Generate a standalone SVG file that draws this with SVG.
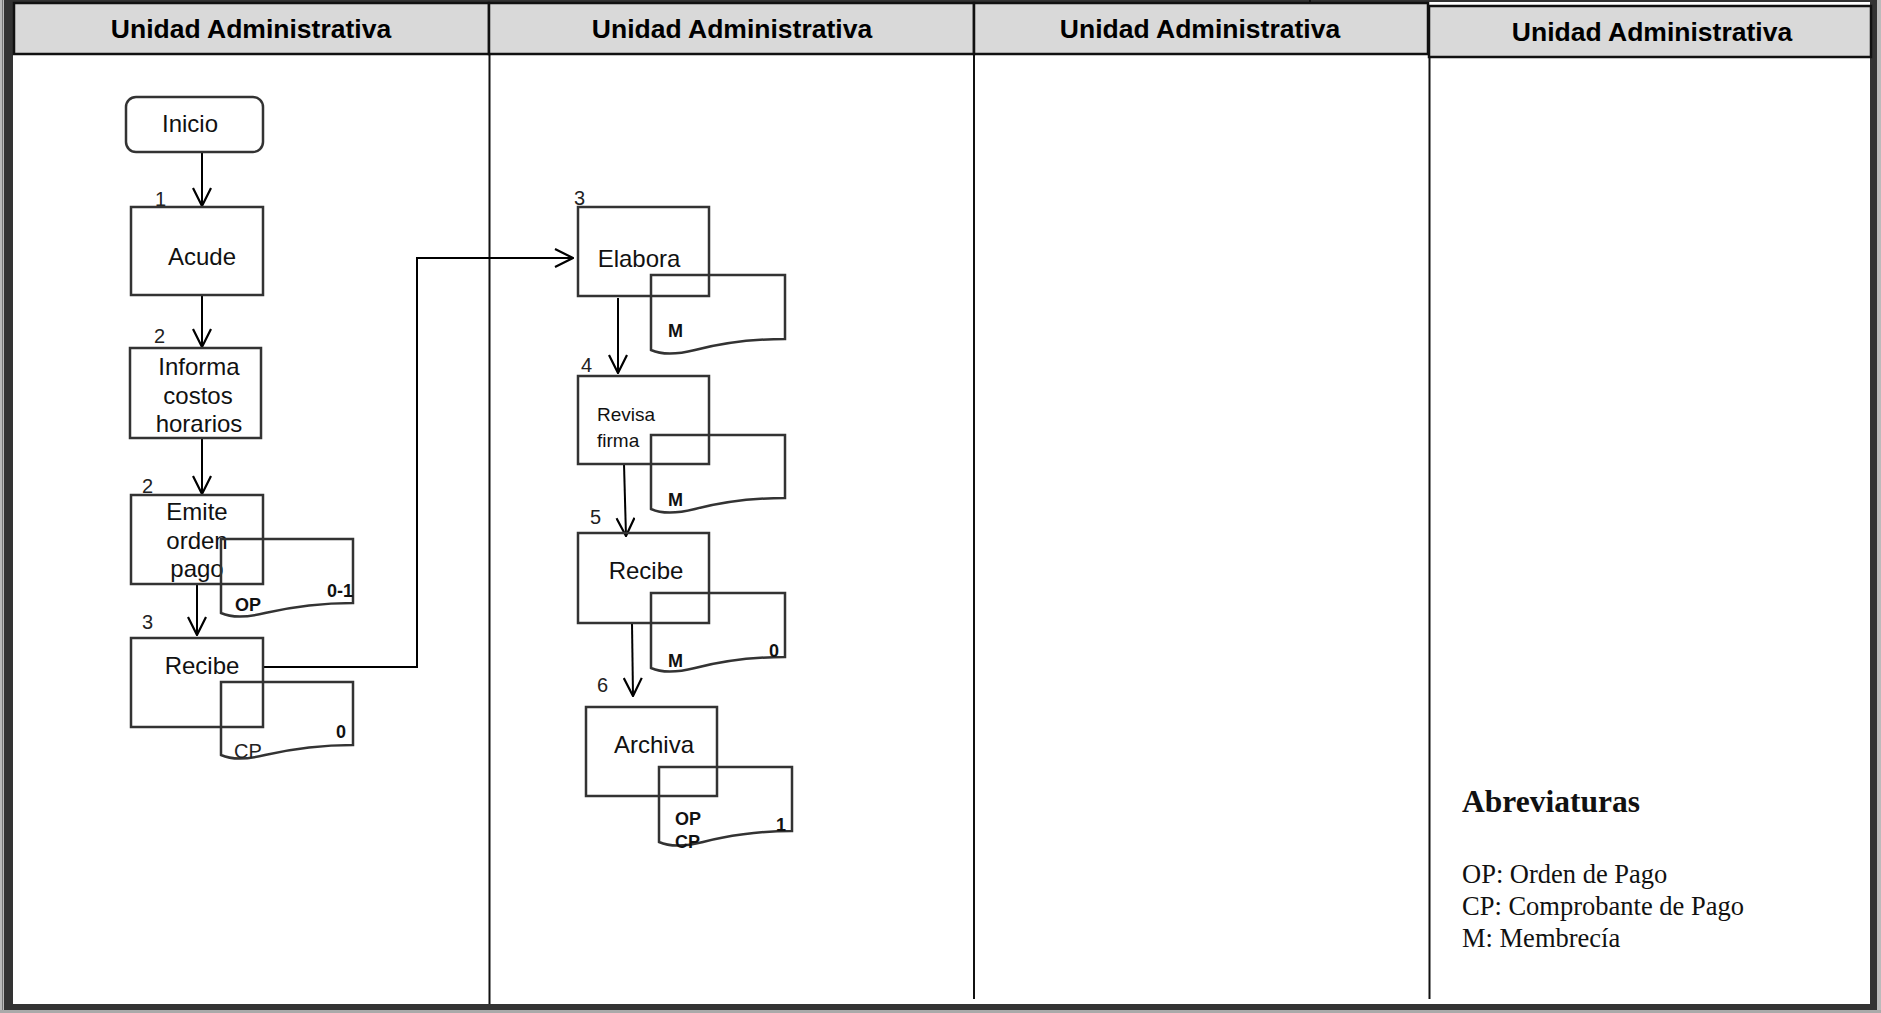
<svg xmlns="http://www.w3.org/2000/svg" width="1881" height="1013" viewBox="0 0 1881 1013">
<style>
.hdr{fill:#d9d9d9;stroke:#111;stroke-width:2.5}
.ht{font-family:"Liberation Sans",Arial,sans-serif;font-weight:bold;font-size:26.5px;fill:#000;text-anchor:middle}
.lane{stroke:#111;stroke-width:2;fill:none}
.box{fill:none;stroke:#333;stroke-width:2.5}
.doc{fill:none;stroke:#333;stroke-width:2.5}
.t{font-family:"Liberation Sans",Arial,sans-serif;font-size:24px;fill:#111;text-anchor:middle}
.ts{font-family:"Liberation Sans",Arial,sans-serif;font-size:19px;fill:#111}
.n{font-family:"Liberation Sans",Arial,sans-serif;font-size:20px;fill:#222}
.dl{font-family:"Liberation Sans",Arial,sans-serif;font-size:18px;font-weight:bold;fill:#111}
.dr{font-family:"Liberation Sans",Arial,sans-serif;font-size:20px;fill:#222}
.cn{fill:none;stroke:#000;stroke-width:2}
.lg{font-family:"Liberation Serif","Times New Roman",serif;font-size:26.5px;fill:#111}
.lgh{font-family:"Liberation Serif","Times New Roman",serif;font-size:31.5px;font-weight:bold;fill:#111}
</style>
<defs>
<marker id="ah" viewBox="0 0 20 20" refX="19" refY="10" markerWidth="20" markerHeight="20" markerUnits="userSpaceOnUse" orient="auto">
<path d="M1,1 L19,10 L1,19" fill="none" stroke="#000" stroke-width="2.2"/>
</marker>
</defs>
<rect x="0" y="0" width="1881" height="1013" fill="#fff"/>
<g id="frame">
<rect x="0" y="0" width="4" height="1013" fill="#bbb"/>
<rect x="2" y="0" width="1" height="1013" fill="#777"/>
<rect x="4" y="0" width="9" height="1013" fill="#333"/>
<rect x="1870" y="0" width="7" height="1013" fill="#333"/>
<rect x="1877" y="0" width="4" height="1013" fill="#bbb"/>
<rect x="4" y="1004" width="1873" height="6" fill="#333"/>
<rect x="0" y="1010" width="1881" height="3" fill="#aaa"/>
<rect x="4" y="0" width="1866" height="2" fill="#333"/>
</g>
<g id="headers">
<rect class="hdr" x="14" y="3" width="475" height="51"/>
<rect class="hdr" x="489" y="3" width="485" height="51"/>
<rect class="hdr" x="974" y="3" width="454" height="51"/>
<rect class="hdr" x="1429" y="6" width="442" height="51"/>
<line x1="1310" y1="0" x2="1310" y2="4" stroke="#111" stroke-width="2"/>
<text class="ht" x="251" y="38">Unidad Administrativa</text>
<text class="ht" x="732" y="38">Unidad Administrativa</text>
<text class="ht" x="1200" y="38">Unidad Administrativa</text>
<text class="ht" x="1652" y="41">Unidad Administrativa</text>
</g>
<g id="lanes">
<line class="lane" x1="489.5" y1="54" x2="489.5" y2="1004"/>
<line class="lane" x1="974" y1="54" x2="974" y2="999"/>
<line class="lane" x1="1429.5" y1="57" x2="1429.5" y2="999"/>
</g>
<g id="connectors">
<line class="cn" x1="202" y1="152" x2="202" y2="206" marker-end="url(#ah)"/>
<line class="cn" x1="202" y1="295" x2="202" y2="347" marker-end="url(#ah)"/>
<line class="cn" x1="202" y1="438" x2="202" y2="494" marker-end="url(#ah)"/>
<line class="cn" x1="197" y1="583" x2="197" y2="635" marker-end="url(#ah)"/>
<polyline class="cn" points="263,667 417,667 417,258 573,258" marker-end="url(#ah)"/>
<line class="cn" x1="618" y1="298" x2="618" y2="373" marker-end="url(#ah)"/>
<line class="cn" x1="624" y1="464" x2="626" y2="536" marker-end="url(#ah)"/>
<line class="cn" x1="632" y1="623" x2="633" y2="696" marker-end="url(#ah)"/>
</g>
<g id="n-inicio">
<rect class="box" x="126" y="97" width="137" height="55" rx="10"/>
<text class="t" x="190" y="132">Inicio</text>
</g>
<g id="n-acude">
<text class="n" x="155" y="206">1</text>
<rect class="box" x="131" y="207" width="132" height="88"/>
<text class="t" x="202" y="265">Acude</text>
</g>
<g id="n-informa">
<text class="n" x="154" y="343">2</text>
<rect class="box" x="130" y="348" width="131" height="90"/>
<text class="t" x="199" y="375">Informa</text>
<text class="t" x="198" y="404">costos</text>
<text class="t" x="199" y="432">horarios</text>
</g>
<g id="n-emite">
<text class="n" x="142" y="493">2</text>
<rect class="box" x="131" y="495" width="132" height="89"/>
<text class="t" x="197" y="520">Emite</text>
<text class="t" x="197" y="549">orden</text>
<text class="t" x="197" y="577">pago</text>
</g>
<g id="d-op">
<path class="doc" d="M221,539 H353 V603 C320,603 287,608 265,613 C245,618 232,618 221,613 Z"/>
<text class="dl" x="235" y="611">OP</text>
<text class="dl" x="353" y="597" text-anchor="end">0-1</text>
</g>
<g id="n-recibe1">
<text class="n" x="142" y="629">3</text>
<rect class="box" x="131" y="638" width="132" height="89"/>
<text class="t" x="202" y="674">Recibe</text>
</g>
<g id="d-cp">
<path class="doc" d="M221,682 H353 V745 C320,745 287,750 265,755 C245,760 232,760 221,755 Z"/>
<text class="dr" x="234" y="758">CP</text>
<text class="dl" x="346" y="738" text-anchor="end">0</text>
</g>
<g id="n-elabora">
<text class="n" x="574" y="205">3</text>
<rect class="box" x="578" y="207" width="131" height="89"/>
<text class="t" x="639" y="267">Elabora</text>
</g>
<g id="d-m1">
<path class="doc" d="M651,275 H785 V339 C752,339 718,344 695,350 C675,355 662,355 651,350 Z"/>
<text class="dl" x="668" y="337">M</text>
</g>
<g id="n-revisa">
<text class="n" x="581" y="372">4</text>
<rect class="box" x="578" y="376" width="131" height="88"/>
<text class="ts" x="597" y="421">Revisa</text>
<text class="ts" x="597" y="447">firma</text>
</g>
<g id="d-m2">
<path class="doc" d="M651,435 H785 V498 C752,498 718,503 695,509 C675,514 662,514 651,509 Z"/>
<text class="dl" x="668" y="506">M</text>
</g>
<g id="n-recibe2">
<text class="n" x="590" y="524">5</text>
<rect class="box" x="578" y="533" width="131" height="90"/>
<text class="t" x="646" y="579">Recibe</text>
</g>
<g id="d-m3">
<path class="doc" d="M651,593 H785 V657 C752,657 718,662 695,668 C675,673 662,673 651,668 Z"/>
<text class="dl" x="668" y="667">M</text>
<text class="dl" x="779" y="657" text-anchor="end">0</text>
</g>
<g id="n-archiva">
<text class="n" x="597" y="692">6</text>
<rect class="box" x="586" y="707" width="131" height="89"/>
<text class="t" x="654" y="753">Archiva</text>
</g>
<g id="d-opcp">
<path class="doc" d="M659,767 H792 V831 C759,831 725,836 703,842 C683,847 670,847 659,842 Z"/>
<text class="dl" x="675" y="825">OP</text>
<text class="dl" x="675" y="848">CP</text>
<text class="dl" x="786" y="831" text-anchor="end">1</text>
</g>
<g id="legend">
<text class="lgh" x="1462" y="812">Abreviaturas</text>
<text class="lg" x="1462" y="883">OP: Orden de Pago</text>
<text class="lg" x="1462" y="915">CP: Comprobante de Pago</text>
<text class="lg" x="1462" y="947">M: Membrecía</text>
</g>
</svg>
